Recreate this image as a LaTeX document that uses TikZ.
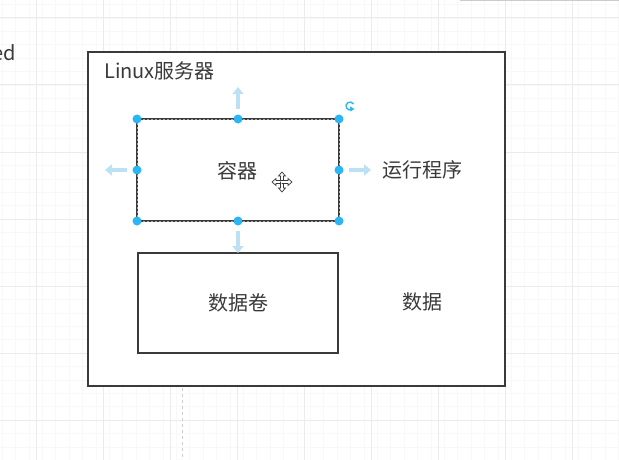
\documentclass[tikz,border=0pt]{standalone}
\usepackage{fontspec}
\setmainfont{Noto Sans CJK SC}
\usetikzlibrary{arrows.meta,calc}
\definecolor{ink}{HTML}{3A3A3A}
\definecolor{handle}{HTML}{29B6F2}
\definecolor{hint}{HTML}{BCE1F4}
\definecolor{gridc}{HTML}{EBEBEB}
\definecolor{gridm}{HTML}{F8F8F8}
\tikzset{
  box/.style={draw=ink, line width=2pt, fill=white, minimum width=200pt, minimum height=100pt},
  lbl/.style={text=ink, font=\fontsize{20}{22}\selectfont, inner sep=0pt},
  hdl/.style={circle, fill=handle, inner sep=0pt, minimum size=9pt},
  hintarrow/.style={hint, line width=4pt, -{Triangle[width=11pt,length=7pt]}},
}
\begin{document}
\begin{tikzpicture}[x=1pt,y=-1pt]
\useasboundingbox (0,0) rectangle (619,460);
\fill[white] (0,0) rectangle (619,460);
% grid
\foreach \i in {0,...,46} {\draw[gridm, line width=0.6pt] (\i*13.4+2,0) -- (\i*13.4+2,460);}
\foreach \i in {0,...,34} {\draw[gridm, line width=0.6pt] (0,\i*13.4+4.6) -- (619,\i*13.4+4.6);}
\foreach \i in {0,...,9} {\draw[gridc, line width=1pt] (\i*67+36,0) -- (\i*67+36,460);}
\foreach \i in {0,...,6} {\draw[gridc, line width=1pt] (0,\i*67+18) -- (619,\i*67+18);}
\fill[gray!40] (460,0) rectangle (619,1.5);
% partial text on left
\node[lbl, anchor=east] (ed) at (16,53) {ed};
% outer server box
\node[draw=ink, line width=2pt, fill=white, minimum width=417pt, minimum height=334pt, anchor=north west, inner sep=0pt] (srv) at (87,51) {};
\node[lbl, anchor=west] (srvlbl) at (104,71) {Linux服务器};
% guide line below
\draw[gray!40, dashed, line width=0.6pt] (182,388) -- (182,460);
% container (selected)
\node[box, draw=none, anchor=north west] (ctr) at (137,119) {};
\draw[ink, line width=2pt] (ctr.north west) rectangle (ctr.south east);
\draw[gray!70, line width=1pt, dash pattern=on 2pt off 2pt] (ctr.north west) rectangle (ctr.south east);
\node[lbl] (ctrlbl) at (237,171) {容器};
% volume
\node[box, anchor=north west] (vol) at (137,252) {};
\node[lbl] (vollbl) at (vol.center) {数据卷};
% side labels
\node[lbl] (run) at (422,170) {运行程序};
\node[lbl] (data) at (422,302) {数据};
% hint arrows
\draw[hintarrow] ($(ctr.north)+(0,-10)$) -- ++(0,-22);
\draw[hintarrow] ($(ctr.south)+(0,10)$) -- ++(0,22);
\draw[hintarrow] ($(ctr.west)+(-10,0)$) -- ++(-22,0);
\draw[hintarrow] ($(ctr.east)+(10,0)$) -- ++(22,0);
% handles
\foreach \a in {north west,north,north east,west,east,south west,south,south east}
  \node[hdl] at (ctr.\a) {};
% rotate icon
\coordinate (rot) at ($(ctr.north east)+(11,-13)$);
\draw[handle, line width=1.4pt] ($(rot)+(60:4)$) arc (60:330:4);
\fill[handle] ($(rot)+(60:4)+(2.5,-0.5)$) -- ++(-4.5,-2.5) -- ++(0.5,5) -- cycle;
% move cursor
\begin{scope}[shift={(282,182)}]
  \foreach \r in {0,90,180,270} {
    \begin{scope}[rotate=\r]
      \fill[white, draw=ink, line width=0.7pt] (-1.5,0) -- (-1.5,-6) -- (-3.5,-6) -- (0,-10) -- (3.5,-6) -- (1.5,-6) -- (1.5,0) -- cycle;
    \end{scope}
  }
  \fill[white] (-1.2,-1.2) rectangle (1.2,1.2);
\end{scope}
\end{tikzpicture}
\end{document}
